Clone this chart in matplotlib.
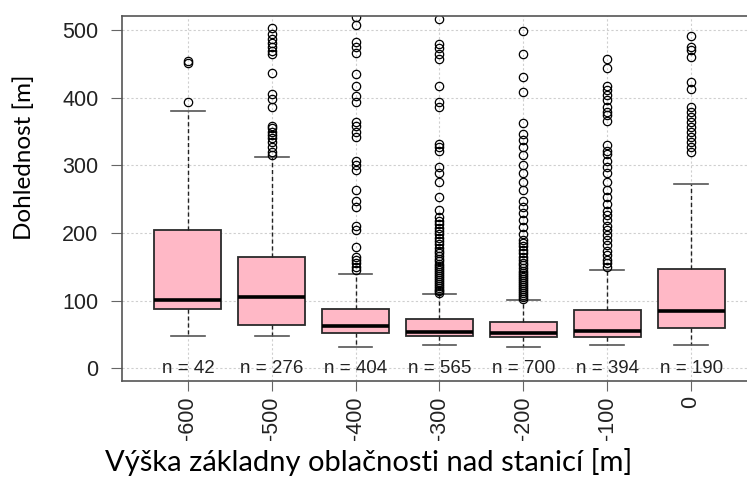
import matplotlib
matplotlib.use("Agg")
import matplotlib.pyplot as plt

# skupiny (vyska zakladny oblacnosti nad stanici)
groups = ["-600", "-500", "-400", "-300", "-200", "-100", "0"]
counts = [42, 276, 404, 565, 700, 394, 190]

# statistiky boxplotu
q1 = [87, 64, 52, 47, 46, 46, 59]
med = [101, 105, 62, 53, 52, 55, 84]
q3 = [205, 164, 88, 72, 68, 86, 147]
whislo = [48, 47, 31, 34, 32, 34, 35]
whishi = [381, 312, 140, 109, 101, 145, 272]

fliers_600 = [394, 451, 455]
fliers_500 = [315, 320, 327, 335, 340, 345, 350, 355, 359, 386, 398, 406,
              436, 465, 469, 475, 481, 487, 495, 503]
fliers_400 = [145, 150, 155, 160, 165, 179, 204, 211, 238, 248, 263, 293,
              300, 307, 342, 349, 359, 364, 394, 403, 418, 435, 467, 475,
              482, 507, 519]
fliers_300 = [111, 114, 116, 119, 122, 125, 127, 130, 133, 136, 139, 142,
              145, 148, 151, 154, 158, 162, 166, 170, 174, 178, 183, 188,
              193, 198, 203, 208, 213, 218, 224, 234, 253, 275, 288, 298,
              322, 327, 332, 386, 394, 417, 458, 465, 473, 480, 517]
fliers_200 = [103, 106, 108, 111, 114, 117, 120, 123, 126, 129, 132, 135,
              138, 141, 144, 148, 152, 156, 160, 165, 170, 175, 180, 185,
              189, 199, 209, 219, 229, 238, 248, 263, 275, 288, 300, 316,
              327, 337, 347, 363, 409, 431, 465, 499]
fliers_100 = [150, 155, 160, 167, 174, 182, 189, 197, 204, 211, 219, 226,
              233, 243, 253, 263, 275, 288, 298, 307, 317, 322, 330, 366,
              374, 379, 386, 396, 404, 411, 418, 444, 458]
fliers_0 = [320, 327, 334, 342, 349, 357, 364, 371, 379, 386, 413, 423,
            460, 470, 475, 492]
fliers = [fliers_600, fliers_500, fliers_400, fliers_300, fliers_200,
          fliers_100, fliers_0]

stats = []
for i in range(len(groups)):
    stats.append({"label": groups[i], "q1": q1[i], "med": med[i], "q3": q3[i],
                  "whislo": whislo[i], "whishi": whishi[i], "fliers": fliers[i]})

W, H = 747, 492
fig = plt.figure(figsize=(W / 100, H / 100), dpi=100)
ax = fig.add_axes([122 / W, 1 - 381 / H, (W - 122) / W, (381 - 16) / H])

pos = list(range(1, len(groups) + 1))
ax.bxp(stats, positions=pos, widths=0.8, patch_artist=True,
       boxprops=dict(facecolor="#ffb8c6", edgecolor="#2a2a2a", linewidth=1.3),
       medianprops=dict(color="black", linewidth=2.6),
       whiskerprops=dict(color="#222222", linewidth=1.0, linestyle=(0, (3, 2))),
       capprops=dict(color="#555555", linewidth=1.2),
       capwidths=0.4,
       flierprops=dict(marker="o", markerfacecolor="none", markeredgecolor="black",
                       markersize=6, markeredgewidth=0.9))

for p, n in zip(pos, counts):
    ax.text(p, 0, "n = %d" % n, ha="center", va="center", fontsize=13.5,
            family="Liberation Sans", color="#222222")

ax.set_xlim(1 - 66 / 84, 7 + (W - 691) / 84)
ax.set_ylim(-19, 521)
ax.set_yticks([0, 100, 200, 300, 400, 500])
ax.set_xticks(pos)
ax.set_xticklabels(groups, rotation=90)

ax.set_axisbelow(True)
ax.grid(True, color="#cfcfcf", linestyle=(0, (2, 2)), linewidth=0.8)

for lab in ax.get_xticklabels() + ax.get_yticklabels():
    lab.set_family("Liberation Sans")
    lab.set_fontsize(15.5)
    lab.set_color("#222222")
ax.tick_params(axis="y", length=8, pad=9, color="#666666")
ax.tick_params(axis="x", length=7, pad=4, color="#666666")

ax.spines["right"].set_visible(False)
for s in ["top", "left", "bottom"]:
    ax.spines[s].set_color("#555555")
    ax.spines[s].set_linewidth(1.2)

fig.text(24 / W, 1 - 157 / H, "Dohlednost [m]", rotation=90, ha="center",
         va="center", fontsize=17.5, family="Lato", color="black")
fig.text(369 / W, 1 - 462 / H, "Výška základny oblačnosti nad stanicí [m]",
         ha="center", va="center", fontsize=21, family="Lato", color="black")

fig.savefig("out.png", dpi=100)
